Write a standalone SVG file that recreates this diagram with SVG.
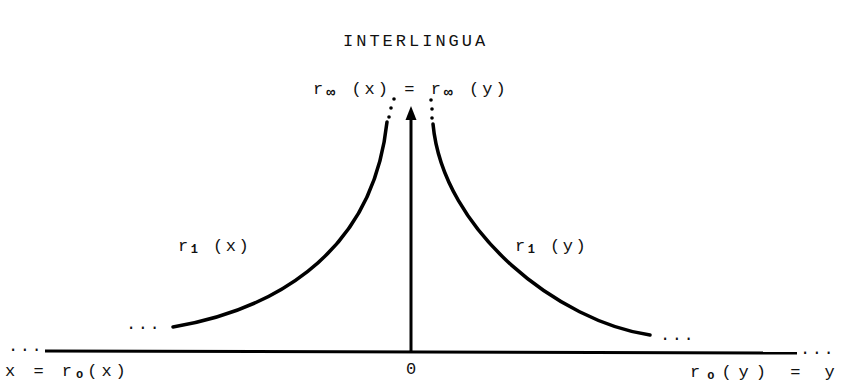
<svg xmlns="http://www.w3.org/2000/svg" width="847" height="383" viewBox="0 0 847 383">
<style>
text{font-family:"Liberation Mono","DejaVu Sans Mono",monospace;fill:#111;font-size:17px;letter-spacing:1.5px}
.sub{font-size:12px;font-weight:bold}
.inf{font-size:15px;font-weight:bold}
.curve{fill:none;stroke:#000;stroke-width:3.5;stroke-linecap:round}
.axis{fill:none;stroke:#000;stroke-width:3}
.dot{fill:#000}
</style>
<rect width="847" height="383" fill="#fff"/>
<g id="title"><text x="343" y="46" style="letter-spacing:3px">INTERLINGUA</text></g>
<g id="top-label"><text x="313" y="94" style="letter-spacing:3px">r<tspan class="inf" dy="3">∞</tspan><tspan dy="-3"> (x) = r</tspan><tspan class="inf" dy="3">∞</tspan><tspan dy="-3"> (y)</tspan></text></g>
<g id="r1x"><text x="178" y="251" style="letter-spacing:2.5px">r<tspan class="sub" dy="2">1</tspan><tspan dy="-2"> (x)</tspan></text></g>
<g id="r1y"><text x="515" y="251" style="letter-spacing:2.5px">r<tspan class="sub" dy="2">1</tspan><tspan dy="-2"> (y)</tspan></text></g>
<g id="x-label"><text x="5" y="376" style="letter-spacing:4px">x = r<tspan class="sub" dy="2">o</tspan><tspan dy="-2">(x)</tspan></text></g>
<g id="zero"><text x="406" y="374">0</text></g>
<g id="y-label"><text x="690" y="377" style="letter-spacing:7px">r<tspan class="sub" dy="2">o</tspan><tspan dy="-2">(y) = y</tspan></text></g>
<g id="ellipses">
<text x="126" y="329">...</text>
<text x="660" y="340">...</text>
<text x="8" y="351">...</text>
<text x="800" y="354">...</text>
</g>
<g id="connectors">
<line class="axis" x1="45" y1="351" x2="797" y2="353"/>
<line class="axis" x1="411" y1="352" x2="411" y2="116"/>
<polygon points="411,106 416.5,120 405.5,120" fill="#000"/>
<path class="curve" d="M173,327 C262,312 372,262 387,122"/>
<path class="curve" d="M433,124 C443,232 560,322 650,335"/>
<circle class="dot" cx="394" cy="99" r="1.8"/>
<circle class="dot" cx="391" cy="108" r="1.8"/>
<circle class="dot" cx="389" cy="117" r="1.8"/>
<circle class="dot" cx="431" cy="100" r="1.8"/>
<circle class="dot" cx="432" cy="109" r="1.8"/>
<circle class="dot" cx="432" cy="118" r="1.8"/>
</g>
</svg>
